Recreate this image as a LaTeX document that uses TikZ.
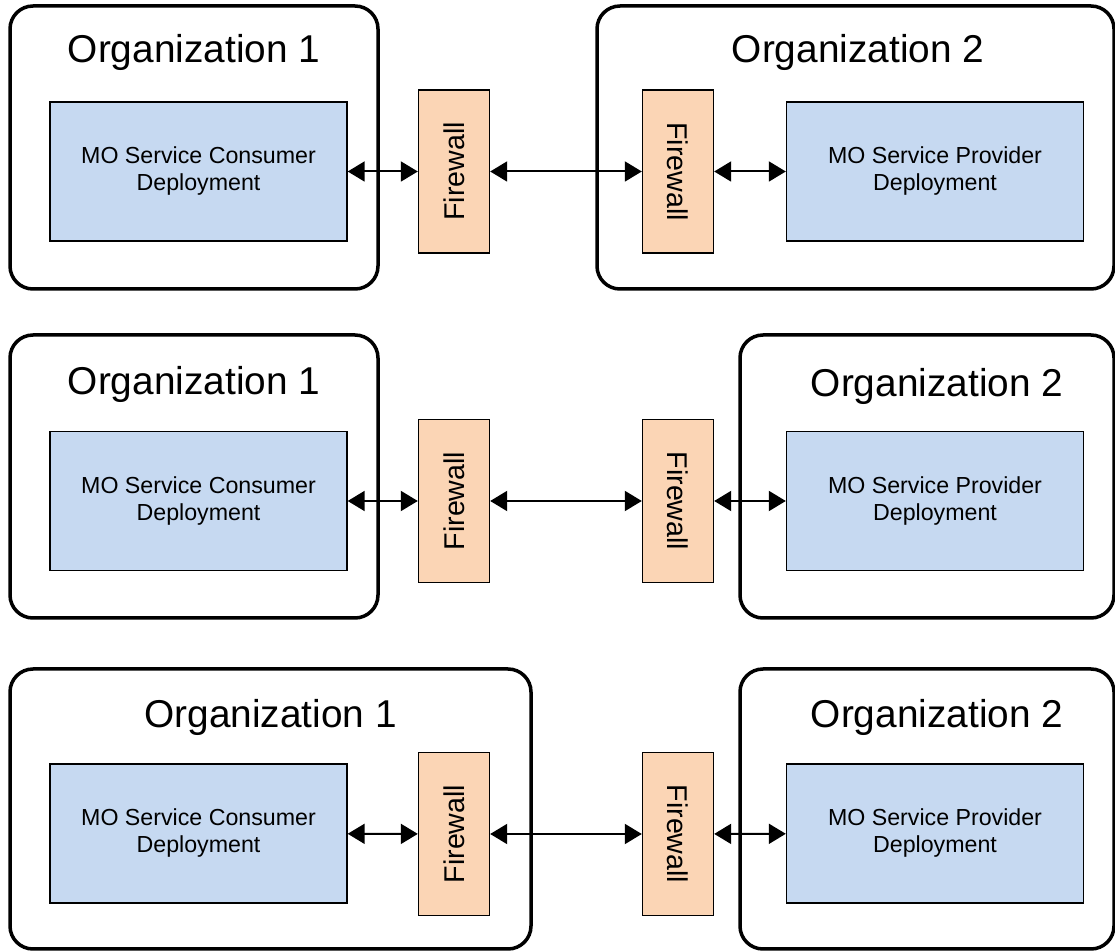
\documentclass[tikz,border=0pt]{standalone}
\usepackage{fontspec}
\setmainfont{Liberation Sans}
\usetikzlibrary{arrows.meta}
\definecolor{deplblue}{HTML}{C6D9F1}
\definecolor{fwpeach}{HTML}{FBD5B5}

\begin{document}
\begin{tikzpicture}[x=0.5pt, y=-0.5pt,
  org/.style={draw, line width=1.75pt, rounded corners=11.5pt, inner sep=0pt},
  orgtitle/.style={anchor=base, font=\fontsize{19.4}{23}\selectfont},
  deploy/.style={draw, fill=deplblue, line width=0.7pt, minimum width=148.5pt,
    minimum height=69.5pt, align=center, font=\fontsize{11.6}{13.5}\selectfont},
  firewall/.style={draw, fill=fwpeach, line width=0.7pt, minimum width=81.5pt,
    minimum height=35.5pt, inner sep=0pt, font=\fontsize{14.3}{16}\selectfont},
  link/.style={{Triangle[length=8.5pt,width=10pt]}-{Triangle[length=8.5pt,width=10pt]}, line width=1pt}]
\useasboundingbox (0,0) rectangle (1115,951);

% first variant: both firewalls inside the organizations
\node[org, minimum width=184pt, minimum height=141.5pt] (orgA1) at (194,147.5) {};
\node[org, minimum width=258.5pt, minimum height=141.5pt] (orgA2) at (855.5,147.5) {};
\node[orgtitle] (titleA1) at (194,63) {Organization 1};
\node[orgtitle] (titleA2) at (858,63) {Organization 2};
\node[deploy] (consA) at (198.5,171.5) {MO Service Consumer\\Deployment};
\node[deploy] (provA) at (935,171.5) {MO Service Provider\\Deployment};
\node[firewall, rotate=90] (fwA1) at (454,171.5) {Firewall};
\node[firewall, rotate=-90] (fwA2) at (678,171.5) {Firewall};
\draw[link] (consA) -- (fwA1);
\draw[link] (fwA1) -- (fwA2);
\draw[link] (fwA2) -- (provA);

% second variant: both firewalls outside
\node[org, minimum width=184pt, minimum height=141.5pt] (orgB1) at (194,476.5) {};
\node[org, minimum width=187pt, minimum height=141.5pt] (orgB2) at (927,476.5) {};
\node[orgtitle] (titleB1) at (194,395) {Organization 1};
\node[orgtitle] (titleB2) at (937,397) {Organization 2};
\node[deploy] (consB) at (198.5,501) {MO Service Consumer\\Deployment};
\node[deploy] (provB) at (935,501) {MO Service Provider\\Deployment};
\node[firewall, rotate=90] (fwB1) at (454,501) {Firewall};
\node[firewall, rotate=-90] (fwB2) at (678,501) {Firewall};
\draw[link] (consB) -- (fwB1);
\draw[link] (fwB1) -- (fwB2);
\draw[link] (fwB2) -- (provB);

% third variant: only the consumer side firewall inside
\node[org, minimum width=260.5pt, minimum height=140pt] (orgC1) at (270.5,809) {};
\node[org, minimum width=187pt, minimum height=140pt] (orgC2) at (927,809) {};
\node[orgtitle] (titleC1) at (270.5,728) {Organization 1};
\node[orgtitle] (titleC2) at (937,728) {Organization 2};
\node[deploy] (consC) at (198.5,833.5) {MO Service Consumer\\Deployment};
\node[deploy] (provC) at (935,833.5) {MO Service Provider\\Deployment};
\node[firewall, rotate=90] (fwC1) at (454,834) {Firewall};
\node[firewall, rotate=-90] (fwC2) at (678,834) {Firewall};
\draw[link] (consC) -- (fwC1);
\draw[link] (fwC1) -- (fwC2);
\draw[link] (fwC2) -- (provC);
\end{tikzpicture}
\end{document}
